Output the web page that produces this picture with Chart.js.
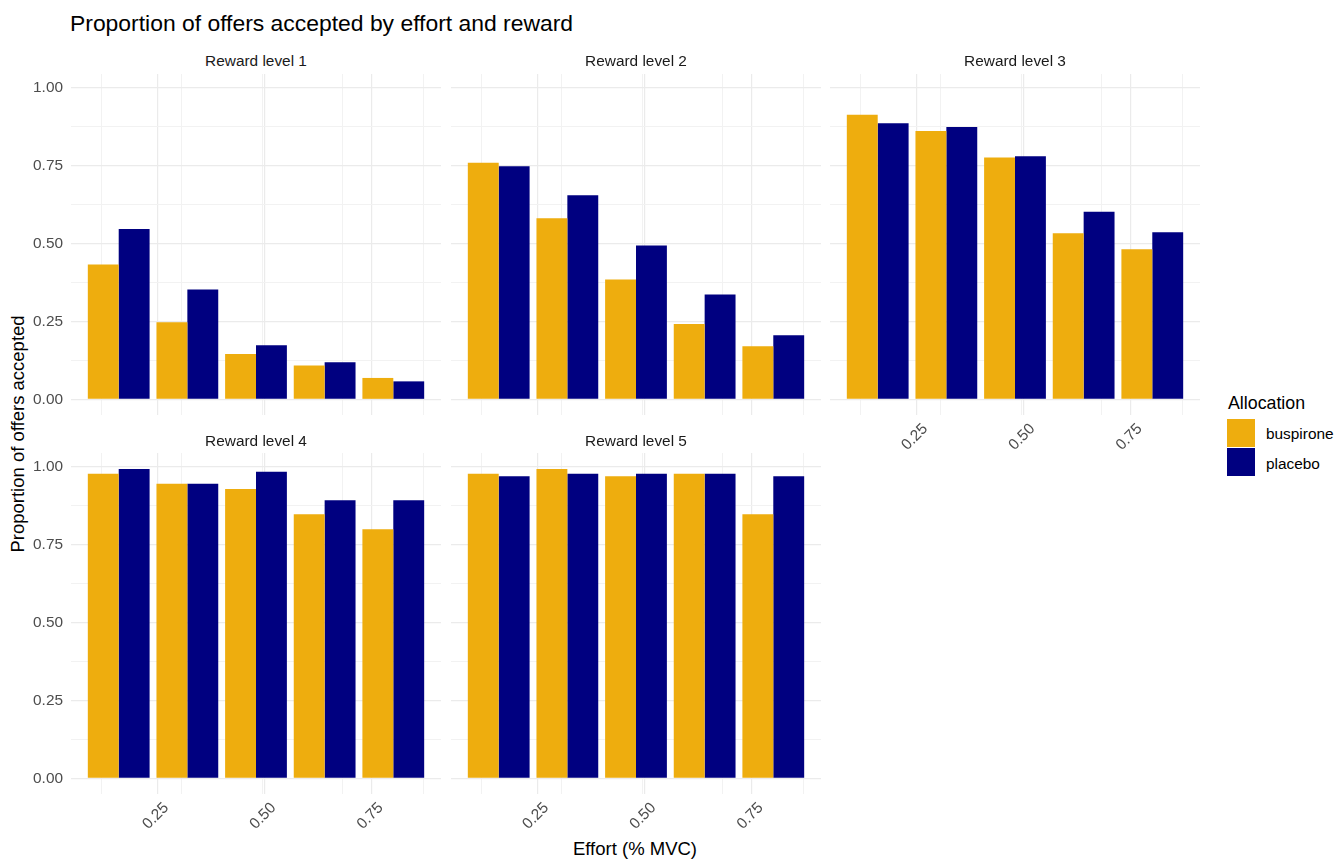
<!DOCTYPE html>
<html>
<head>
<meta charset="utf-8">
<script src="https://cdn.jsdelivr.net/npm/chart.js@4.4.1/dist/chart.umd.min.js"></script>
<style>
  body { margin: 0; background: #fff; width: 1340px; height: 859px; position: relative; overflow: hidden;
         font-family: "Liberation Sans", Arial, sans-serif; }
  .t { position: absolute; line-height: 1; white-space: nowrap; transform: translate(-50%, -50%); }
  .l { position: absolute; line-height: 1; white-space: nowrap; transform: translateY(-50%); }
  canvas { position: absolute; }
  .key { position: absolute; width: 28px; height: 28px; }
</style>
</head>
<body>
<div class="l" style="left:70px;top:23px;font-size:22.9px;color:#000">Proportion of offers accepted by effort and reward</div>
<div class="t" style="left:18px;top:434px;font-size:18.5px;color:#000;transform:translate(-50%,-50%) rotate(-90deg)">Proportion of offers accepted</div>
<div class="t" style="left:635px;top:849px;font-size:18.5px;color:#000">Effort (% MVC)</div>

<script>
// data
const effort = [0.16, 0.32, 0.48, 0.64, 0.80];
const rewardLevels = ['Reward level 1', 'Reward level 2', 'Reward level 3', 'Reward level 4', 'Reward level 5'];
const allocations = ['buspirone', 'placebo'];

// one row per reward level, one value per effort level
const buspirone = [
  [0.433, 0.248, 0.146, 0.109, 0.069],
  [0.760, 0.582, 0.385, 0.242, 0.171],
  [0.914, 0.862, 0.777, 0.534, 0.482],
  [0.978, 0.946, 0.929, 0.848, 0.800],
  [0.978, 0.994, 0.970, 0.978, 0.848]
];
const placebo = [
  [0.547, 0.353, 0.174, 0.119, 0.058],
  [0.749, 0.656, 0.494, 0.337, 0.206],
  [0.887, 0.875, 0.781, 0.603, 0.537],
  [0.994, 0.946, 0.985, 0.893, 0.893],
  [0.970, 0.978, 0.978, 0.978, 0.970]
];

const xTicks = [0.25, 0.50, 0.75];
const xMinorTicks = [0.125, 0.375, 0.625, 0.875];
const yTicks = [0, 0.25, 0.50, 0.75, 1.00];
const yMinorTicks = [0.125, 0.375, 0.625, 0.875];

const colours = ['#EEAD0E', '#000080'];

// panel geometry
const PW = 370, PH = 341, AXW = 60, AXH = 50;
const colLeft = [71, 451, 830];
const rowTop = [74, 453];
const stripY = [61, 441];
const font = '"Liberation Sans", Arial, sans-serif';

const tickFont = { family: font, size: 15.4 };
const series = [buspirone, placebo];

function addText(cls, x, y, txt, size, color) {
  const d = document.createElement('div');
  d.className = cls;
  d.style.left = x + 'px';
  d.style.top = y + 'px';
  d.style.fontSize = size + 'px';
  d.style.color = color;
  d.textContent = txt;
  document.body.appendChild(d);
}

rewardLevels.forEach((name, i) => {
  const col = i % 3, row = Math.floor(i / 3);
  const showY = col === 0;
  const showX = i >= 2;

  const cv = document.createElement('canvas');
  cv.width = PW + AXW;
  cv.height = PH + AXH;
  cv.style.left = (colLeft[col] - AXW) + 'px';
  cv.style.top = rowTop[row] + 'px';
  document.body.appendChild(cv);

  addText('t', colLeft[col] + PW / 2, stripY[row], name, 15.4, '#1a1a1a');

  new Chart(cv.getContext('2d'), {
    type: 'bar',
    data: {
      datasets: allocations.map((a, k) => ({
        label: a,
        data: effort.map((e, j) => ({ x: e, y: series[k][i][j] })),
        backgroundColor: colours[k],
        borderWidth: 0,
        categoryPercentage: 0.9,
        barPercentage: 1
      }))
    },
    options: {
      responsive: false,
      animation: false,
      events: [],
      layout: { padding: 0 },
      plugins: { legend: { display: false }, tooltip: { enabled: false }, title: { display: false } },
      scales: {
        x: {
          type: 'linear', min: 0.0488, max: 0.9112, offset: false,
          grid: { offset: false, color: '#ebebeb', lineWidth: 1.2, drawTicks: false },
          border: { display: false },
          afterBuildTicks: s => { s.ticks = xTicks.map(v => ({ value: v })); },
          afterFit: s => { s.height = AXH; s.paddingLeft = 0; s.paddingRight = 0; },
          ticks: {
            display: showX, minRotation: 45, maxRotation: 45, padding: 5, labelOffset: 9,
            color: '#4d4d4d', font: tickFont, callback: v => v.toFixed(2)
          }
        },
        xMinor: {
          type: 'linear', axis: 'x', position: 'top', min: 0.0488, max: 0.9112,
          grid: { color: '#f2f2f2', lineWidth: 1, drawTicks: false },
          border: { display: false },
          ticks: { display: false },
          afterBuildTicks: s => { s.ticks = xMinorTicks.map(v => ({ value: v })); },
          afterFit: s => { s.height = 0; s.paddingLeft = 0; s.paddingRight = 0; }
        },
        y: {
          min: -0.05, max: 1.045,
          grid: { color: '#ebebeb', lineWidth: 1.2, drawTicks: false },
          border: { display: false },
          afterBuildTicks: s => { s.ticks = yTicks.map(v => ({ value: v })); },
          afterFit: s => { s.width = AXW; s.paddingTop = 0; s.paddingBottom = 0; },
          ticks: { display: showY, padding: 8, color: '#4d4d4d', font: tickFont, callback: v => v.toFixed(2) }
        },
        yMinor: {
          type: 'linear', axis: 'y', position: 'right', min: -0.05, max: 1.045,
          grid: { color: '#f2f2f2', lineWidth: 1, drawTicks: false },
          border: { display: false },
          ticks: { display: false },
          afterBuildTicks: s => { s.ticks = yMinorTicks.map(v => ({ value: v })); },
          afterFit: s => { s.width = 0; s.paddingTop = 0; s.paddingBottom = 0; }
        }
      }
    }
  });
});

// legend
addText('l', 1228, 404, 'Allocation', 17.8, '#000');
allocations.forEach((a, k) => {
  const b = document.createElement('div');
  b.className = 'key';
  b.style.left = '1227px';
  b.style.top = (419 + k * 28.5) + 'px';
  b.style.background = colours[k];
  document.body.appendChild(b);
  addText('l', 1266, 434 + k * 29.5, a, 15.4, '#000');
});
</script>
</body>
</html>
